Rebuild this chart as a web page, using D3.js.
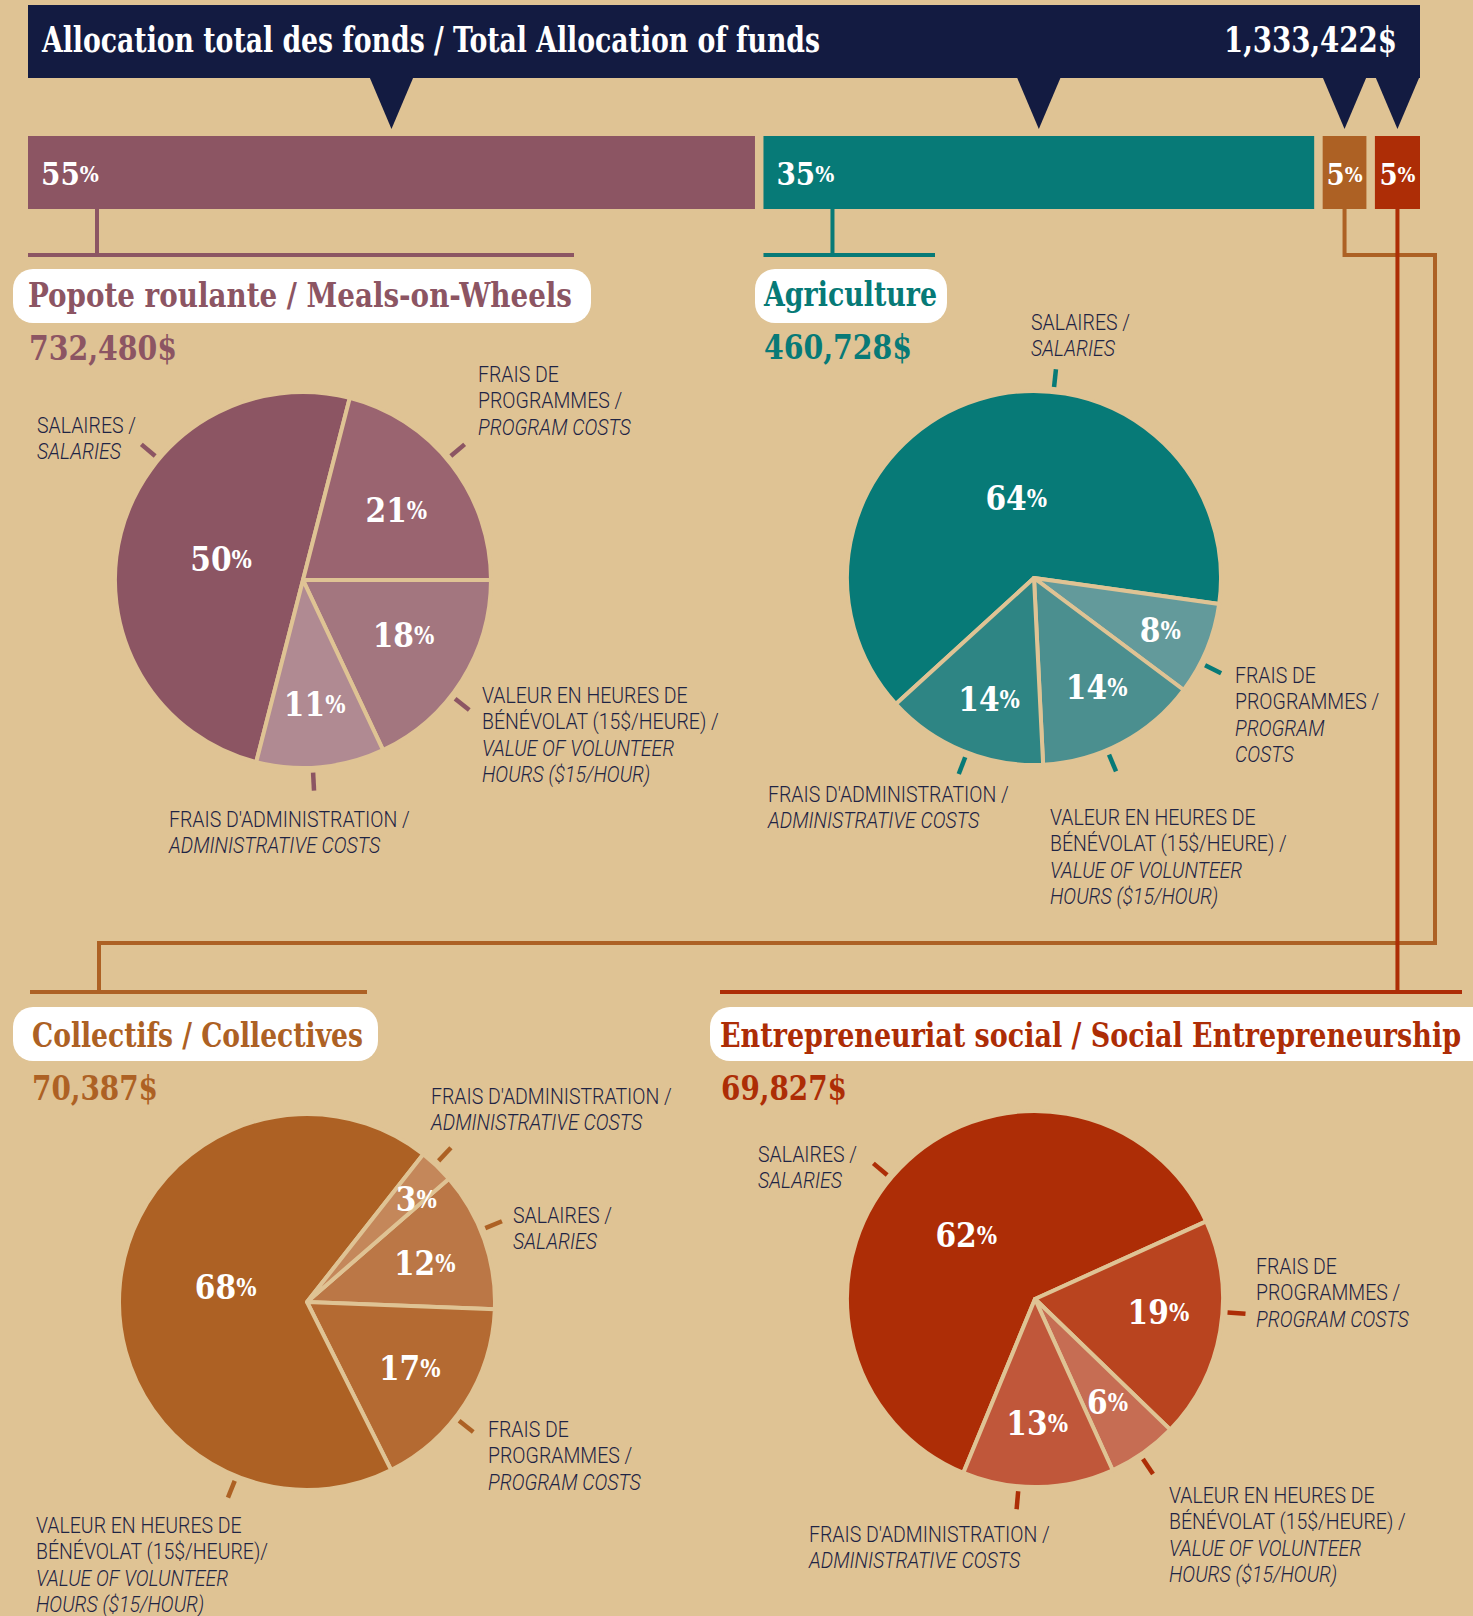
<!DOCTYPE html>
<html><head><meta charset="utf-8">
<script src="https://cdn.jsdelivr.net/npm/d3@7"></script>
<style>
html,body{margin:0;padding:0;background:#dfc394;}
svg{display:block;}
</style></head><body>
<svg id="chart" width="1473" height="1616"></svg>
<script>
// ---------------- DATA ----------------
const chartTitle = "Allocation total des fonds / Total Allocation of funds";
const totalAmount = 1333422;
const programs = ["Popote roulante / Meals-on-Wheels", "Agriculture", "Collectifs / Collectives", "Entrepreneuriat social / Social Entrepreneurship"];
const programAmounts = [732480, 460728, 70387, 69827];
const programSharePct = [55, 35, 5, 5];
// relative bar lengths as drawn in the picture
const programBarLength = [53.2, 40.3, 3.2, 3.3];
const costKeys = ["salaries", "program", "volunteer", "admin"];
const popoteValues = [50, 21, 18, 11];
const agricultureValues = [64, 8, 14, 14];
const collectifsValues = [12, 17, 68, 3];
const entrepreneuriatValues = [62, 19, 6, 13];
const costLabelLines = {
  salaries: [["SALAIRES /", false], ["SALARIES", true]],
  program: [["FRAIS DE", false], ["PROGRAMMES /", false], ["PROGRAM COSTS", true]],
  programSplit: [["FRAIS DE", false], ["PROGRAMMES /", false], ["PROGRAM", true], ["COSTS", true]],
  volunteer: [["VALEUR EN HEURES DE", false], ["BÉNÉVOLAT (15$/HEURE) /", false], ["VALUE OF VOLUNTEER", true], ["HOURS ($15/HOUR)", true]],
  volunteerTight: [["VALEUR EN HEURES DE", false], ["BÉNÉVOLAT (15$/HEURE)/", false], ["VALUE OF VOLUNTEER", true], ["HOURS ($15/HOUR)", true]],
  admin: [["FRAIS D'ADMINISTRATION /", false], ["ADMINISTRATIVE COSTS", true]]
};

// ---------------- LAYOUT / STYLE ----------------
const BG = "#dfc394", NAVY = "#131b41", INK = "#1e2444";
const SERIF = "'DejaVu Serif Condensed','DejaVu Serif',serif";
const SANS = "Roboto,'Open Sans',sans-serif";
const mainColors = ["#8c5563", "#077a77", "#ad6124", "#ad2d06"];
const sliceColors = [
  ["#8c5563", "#9a6470", "#a3767f", "#b08a92"],
  ["#077a77", "#639a9b", "#4b8f8f", "#2e8584"],
  ["#bb7746", "#b46a32", "#ad6124", "#c4875a"],
  ["#ad2d06", "#b9441f", "#c66d53", "#c0573a"]
];
const pieValues = [popoteValues, agricultureValues, collectifsValues, entrepreneuriatValues];
// inside-label placement per slice: [radius factor, angle offset (deg)]
const pieLayout = [
  {cx: 303, cy: 580, r: 188, start: -165.6,
   inLabel: [[0.45, 0], [0.62, 1], [0.61, -3.6], [0.66, 0]],
   pill: [13, 269, 578, 54], title: [28, 307, 544], amount: [29, 360, 148],
   labels: [[37, 433, 310, "salaries"], [478, 382, 50, "program"], [482, 703, 128, "volunteer"], [169, 827, 177, "admin"]]},
  {cx: 1034, cy: 578, r: 187, start: -132.4,
   inLabel: [[0.44, 4.7], [0.73, 0], [0.67, -2], [0.69, -2]],
   pill: [755, 269, 192, 54], title: [764, 306, 173], amount: [764, 359, 148],
   labels: [[1031, 330, 6, "salaries"], [1235, 683, 117, "programSplit"], [1050, 825, 157, "volunteer"], [768, 802, 201, "admin"]]},
  {cx: 307, cy: 1302, r: 188, start: 49,
   inLabel: [[0.66, 1], [0.65, 0], [0.44, 4.6], [0.8, 3]],
   pill: [13, 1007, 365, 54], title: [32, 1047, 331], amount: [32, 1100, 126],
   labels: [[513, 1223, 67.5, "salaries"], [488, 1437, 128, "program"], [36, 1533, 202, "volunteerTight"], [431, 1104, 43, "admin"]]},
  {cx: 1035, cy: 1299, r: 188, start: -157.6,
   inLabel: [[0.5, -1], [0.66, -4], [0.67, 0], [0.66, 0]],
   pill: [710, 1007, 790, 54], title: [720, 1047, 741], amount: [721, 1100, 126],
   labels: [[758, 1162, 310, "salaries"], [1256, 1274, 94, "program"], [1169, 1503, 146, "volunteer"], [809, 1542, 185, "admin"]]}
];

const svg = d3.select("#chart");
svg.append("rect").attr("width", 1473).attr("height", 1616).attr("fill", BG);

// ---------------- TOP BAR ----------------
const barX0 = 28, barX1 = 1420, barGap = 8.5, barY = 136, barH = 73;
const x = d3.scaleLinear().domain([0, d3.sum(programBarLength)])
  .range([barX0, barX1 - barGap * (programBarLength.length - 1)]);
let acc = 0;
const bars = programBarLength.map((v, i) => {
  const x0 = x(acc) + i * barGap, x1 = x(acc + v) + i * barGap;
  acc += v;
  return {i, x0, x1, w: x1 - x0, c: (x0 + x1) / 2};
});
bars.forEach(b => { b.stem = b.w > 100 ? b.x0 + 69 : b.c; });

// connectors
const conn = svg.append("g").attr("fill", "none").attr("stroke-width", 4);
const yBot = barY + barH, yRule1 = 255, yRule2 = 992;
conn.append("path").attr("stroke", mainColors[0]).attr("d", `M${bars[0].stem},${yBot}V${yRule1}M${barX0},${yRule1}H574`);
conn.append("path").attr("stroke", mainColors[1]).attr("d", `M${bars[1].stem},${yBot}V${yRule1}M${bars[1].x0},${yRule1}H935`);
conn.append("path").attr("stroke", mainColors[2]).attr("d", `M${bars[2].stem},${yBot}V${yRule1}H1435V943H99V${yRule2}M30,${yRule2}H367`);
conn.append("path").attr("stroke", mainColors[3]).attr("d", `M${bars[3].stem},${yBot}V${yRule2}M720,${yRule2}H1462`);

// title box
svg.append("rect").attr("x", barX0).attr("y", 5).attr("width", barX1 - barX0).attr("height", 73).attr("fill", NAVY);
bars.forEach(b => {
  svg.append("path").attr("fill", NAVY).attr("d", `M${b.c - 22},77L${b.c + 22},77L${b.c},129Z`);
});
svg.append("text").attr("x", 42).attr("y", 52).attr("fill", "#fff").attr("font-family", SERIF)
  .attr("font-weight", "bold").attr("font-size", 36).attr("textLength", 778).attr("lengthAdjust", "spacingAndGlyphs")
  .text(chartTitle);
svg.append("text").attr("x", 1397).attr("y", 52).attr("text-anchor", "end").attr("fill", "#fff").attr("font-family", SERIF)
  .attr("font-weight", "bold").attr("font-size", 36).attr("textLength", 173).attr("lengthAdjust", "spacingAndGlyphs")
  .text(d3.format(",")(totalAmount) + "$");

function pctText(sel, px, py, num, size, anchor) {
  const t = sel.append("text").attr("x", px).attr("y", py).attr("text-anchor", anchor).attr("fill", "#fff")
    .attr("font-family", SERIF).attr("font-weight", "bold").attr("font-size", size);
  t.append("tspan").text(num);
  t.append("tspan").attr("font-size", size * 0.72).attr("dy", -size * 0.09).text("%");
  return t;
}

bars.forEach(b => {
  svg.append("rect").attr("x", b.x0).attr("y", barY).attr("width", b.w).attr("height", barH).attr("fill", mainColors[b.i]);
  if (b.w > 100) pctText(svg, b.x0 + 13, 185, programSharePct[b.i], 31, "start");
  else pctText(svg, b.c, 185, programSharePct[b.i], 29, "middle");
});

// calibrate condensed sans
const probe = svg.append("text").attr("font-family", SANS).attr("font-size", 22).attr("font-weight", 300).text("FRAIS D'ADMINISTRATION /");
const kSans = 241 / probe.node().getComputedTextLength();
probe.remove();

// ---------------- PIES ----------------
const rad = Math.PI / 180;
pieLayout.forEach((L, pi) => {
  const col = mainColors[pi];
  const g = svg.append("g");
  g.append("rect").attr("x", L.pill[0]).attr("y", L.pill[1]).attr("width", L.pill[2]).attr("height", L.pill[3])
    .attr("rx", 20).attr("fill", "#fff");
  g.append("text").attr("x", L.title[0]).attr("y", L.title[1]).attr("fill", col).attr("font-family", SERIF)
    .attr("font-weight", "bold").attr("font-size", 33).attr("textLength", L.title[2]).attr("lengthAdjust", "spacingAndGlyphs")
    .text(programs[pi]);
  g.append("text").attr("x", L.amount[0]).attr("y", L.amount[1]).attr("fill", col).attr("font-family", SERIF)
    .attr("font-weight", "bold").attr("font-size", 33).attr("textLength", L.amount[2]).attr("lengthAdjust", "spacingAndGlyphs")
    .text(d3.format(",")(programAmounts[pi]) + "$");

  const data = costKeys.map((k, i) => ({k, v: pieValues[pi][i], i}));
  const pie = d3.pie().sort(null).value(d => d.v).startAngle(L.start * rad).endAngle(L.start * rad + 2 * Math.PI);
  const arcs = pie(data);
  const arc = d3.arc().innerRadius(0).outerRadius(L.r);
  const pg = g.append("g").attr("transform", `translate(${L.cx},${L.cy})`);
  pg.selectAll("path").data(arcs).join("path").attr("d", arc)
    .attr("fill", d => sliceColors[pi][d.index]).attr("stroke", BG).attr("stroke-width", 4).attr("stroke-linejoin", "round");
  arcs.forEach(d => {
    const [f, off] = L.inLabel[d.index];
    const mid = (d.startAngle + d.endAngle) / 2 + off * rad;
    const lx = Math.sin(mid) * L.r * f, ly = -Math.cos(mid) * L.r * f;
    pctText(pg, lx, ly + 12, d.data.v, 33, "middle");
  });
  L.labels.forEach(lb => {
    const a = lb[2] * rad;
    g.append("line")
      .attr("x1", L.cx + Math.sin(a) * (L.r + 5)).attr("y1", L.cy - Math.cos(a) * (L.r + 5))
      .attr("x2", L.cx + Math.sin(a) * (L.r + 23)).attr("y2", L.cy - Math.cos(a) * (L.r + 23))
      .attr("stroke", col).attr("stroke-width", 4.5);
    const tg = g.append("g").attr("transform", `translate(${lb[0]},${lb[1]}) scale(${kSans},1)`)
      .attr("font-family", SANS).attr("font-size", 22).attr("font-weight", 300).attr("fill", INK);
    costLabelLines[lb[3]].forEach((ln, li) => {
      tg.append("text").attr("x", 0).attr("y", li * 26.5).attr("font-style", ln[1] ? "italic" : "normal").text(ln[0]);
    });
  });
});
</script>
</body></html>
